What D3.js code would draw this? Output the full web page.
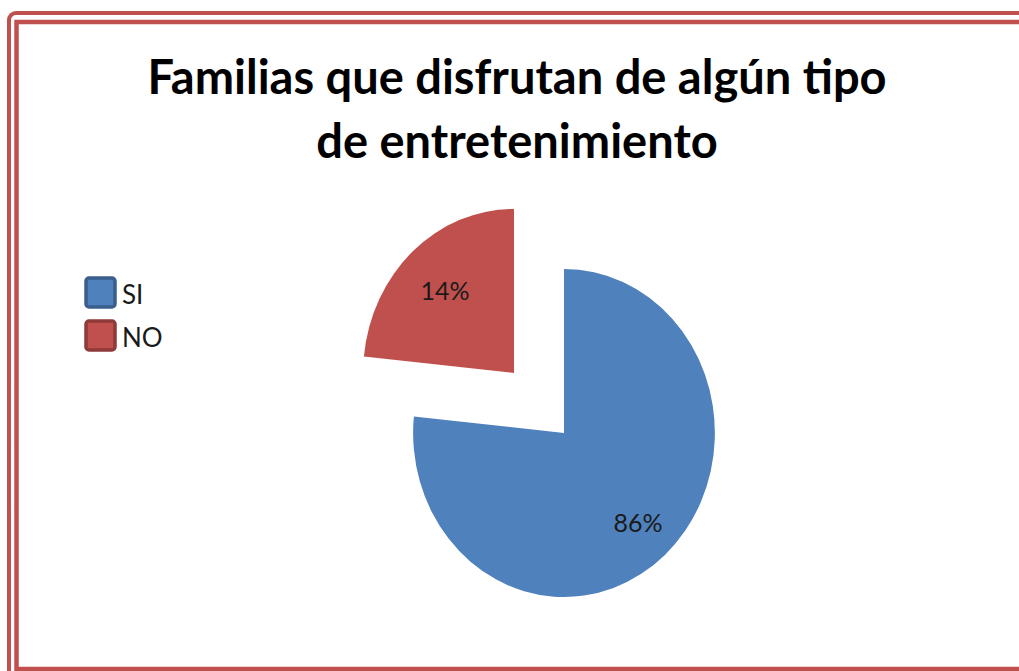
<!DOCTYPE html>
<html>
<head>
<meta charset="utf-8">
<script src="https://cdn.jsdelivr.net/npm/d3@7"></script>
<style>
  body { margin: 0; background: #fff; }
  svg { display: block; }
</style>
</head>
<body>
<div id="chart"></div>
<script>
// chart data
var categories = ["SI", "NO"];
var percentLabels = ["86%", "14%"];
// share of the circle each slice takes as drawn in the picture
var drawnShare = [76.6, 23.4];
var titleLines = ["Familias que disfrutan de algún tipo", "de entretenimiento"];

var colors = ["#4F81BD", "#C0504D"];
var borderColors = ["#3A5F8C", "#8E3A38"];

var width = 1019, height = 671;
var svg = d3.select("#chart").append("svg")
    .attr("width", width)
    .attr("height", height);

// double frame, clipped at right and bottom like the original
svg.append("rect")
    .attr("x", 9).attr("y", 13)
    .attr("width", 1040).attr("height", 700)
    .attr("rx", 7)
    .attr("fill", "none")
    .attr("stroke", "#C0504D")
    .attr("stroke-width", 4);
svg.append("rect")
    .attr("x", 16.5).attr("y", 22)
    .attr("width", 1040).attr("height", 647)
    .attr("fill", "none")
    .attr("stroke", "#C0504D")
    .attr("stroke-width", 4.5);

// title
svg.append("text")
    .attr("x", 517)
    .attr("text-anchor", "middle")
    .style("font-family", "Lato, 'Open Sans', sans-serif")
    .style("font-weight", "bold")
    .style("font-size", "47px")
    .attr("fill", "#000")
  .selectAll("tspan")
  .data(titleLines).enter()
  .append("tspan")
    .attr("x", 517)
    .attr("y", function(d, i) { return 94 + i * 64; })
    .text(function(d) { return d; });

// pie
var cx = 564, cy = 433, r = 164, sx = 0.92;
var explode = 81;

var pie = d3.pie().sort(null).value(function(d) { return d; });
var arcs = pie(drawnShare);
var arc = d3.arc().innerRadius(0).outerRadius(r);

var pieG = svg.append("g")
    .attr("transform", "translate(" + cx + "," + cy + ") scale(" + sx + ",1)");

function offset(d, dist) {
  var a = (d.startAngle + d.endAngle) / 2;
  return [Math.sin(a) * dist, -Math.cos(a) * dist];
}

pieG.selectAll("path")
  .data(arcs).enter()
  .append("path")
    .attr("d", arc)
    .attr("fill", function(d, i) { return colors[i]; })
    .attr("transform", function(d, i) {
      var o = i == 1 ? offset(d, explode) : [0, 0];
      return "translate(" + o[0] + "," + o[1] + ")";
    });

// slice labels
var labelDist = [120, 112];
svg.selectAll(".lbl")
  .data(arcs).enter()
  .append("text")
    .attr("class", "lbl")
    .attr("text-anchor", "middle")
    .attr("dominant-baseline", "central")
    .style("font-family", "Lato, 'Open Sans', sans-serif")
    .style("font-size", "25px")
    .attr("fill", "#1a1a1a")
    .attr("x", function(d, i) {
      var o = i == 1 ? offset(d, explode) : [0, 0];
      var c = offset(d, labelDist[i]);
      return cx + (c[0] + o[0]) * sx;
    })
    .attr("y", function(d, i) {
      var o = i == 1 ? offset(d, explode) : [0, 0];
      var c = offset(d, labelDist[i]);
      return cy + c[1] + o[1];
    })
    .text(function(d, i) { return percentLabels[i]; });

// legend
var legend = svg.selectAll(".leg")
  .data(categories).enter()
  .append("g")
    .attr("class", "leg")
    .attr("transform", function(d, i) { return "translate(86," + (278 + i * 43) + ")"; });

legend.append("rect")
    .attr("width", 29).attr("height", 29)
    .attr("rx", 3)
    .attr("fill", function(d, i) { return colors[i]; })
    .attr("stroke", function(d, i) { return borderColors[i]; })
    .attr("stroke-width", 3.5);

legend.append("text")
    .attr("x", 36)
    .attr("y", 16)
    .attr("dominant-baseline", "central")
    .style("font-family", "Lato, 'Open Sans', sans-serif")
    .style("font-size", "26px")
    .attr("fill", "#1a1a1a")
    .text(function(d) { return d; });
</script>
</body>
</html>
